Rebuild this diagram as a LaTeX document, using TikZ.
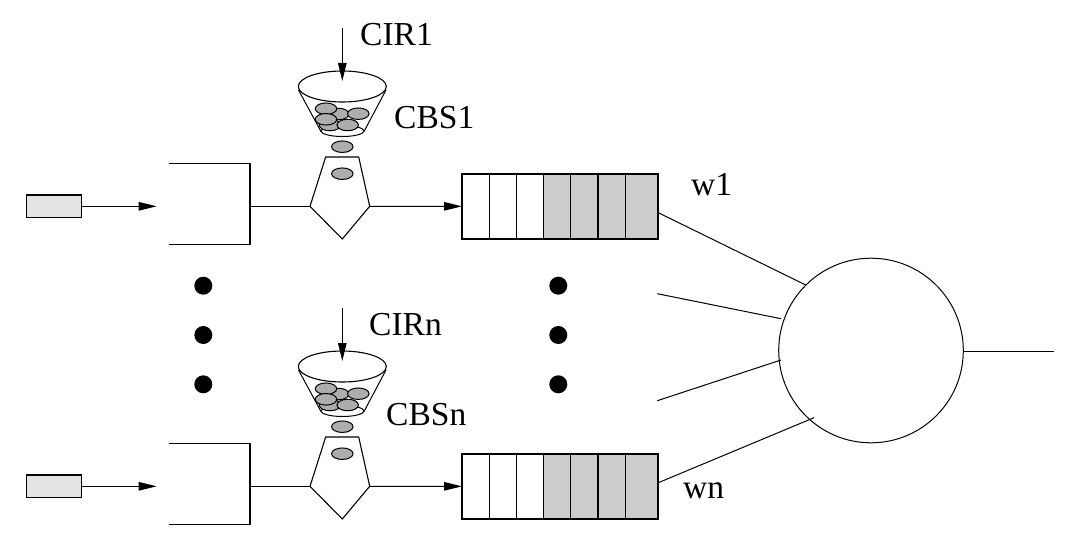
\documentclass[tikz,border=0pt]{standalone}
\usepackage{fontspec}
\setmainfont{Liberation Serif}
\usetikzlibrary{arrows.meta,shapes.geometric}
\tikzset{
  wire/.style={line width=1pt,line cap=butt},
  arrowwire/.style={wire,-{Triangle[length=18pt,width=8.5pt]}},
  lbl/.style={anchor=base west,inner sep=0pt,font=\fontsize{33.5}{36}\selectfont},
  pellet/.style={draw,fill=black!32,line width=1pt,ellipse,minimum width=21.5pt,minimum height=11.5pt,inner sep=0pt,outer sep=0pt},
  srcbox/.style={draw,fill=black!11,line width=1.4pt,minimum width=55pt,minimum height=22.4pt,inner sep=0pt,outer sep=0pt},
  queuebox/.style={draw,line width=2pt,minimum width=196pt,minimum height=64.7pt,inner sep=0pt,outer sep=0pt},
  bigdot/.style={circle,fill=black,minimum size=18pt,inner sep=0pt,outer sep=0pt},
  branch/.pic={
    \node[srcbox] (src) at (54.2,206.3) {};
    \coordinate (srcend) at (156.7,206.3);
    \draw[arrowwire] (src.east) -- (srcend);
    \coordinate (brtl) at (169,163.7);
    \coordinate (brtr) at (250,163.7);
    \coordinate (brbr) at (250,244.3);
    \coordinate (brbl) at (169,244.3);
    \coordinate (brmid) at (250,206.3);
    \draw[line width=1.2pt] (brtl) -- (brtr);
    \draw[line width=1.2pt] (brbl) -- (brbr);
    \draw[line width=1.8pt,line cap=rect] (brtr) -- (brbr);
    % shaper
    \coordinate (pl) at (310,206.3);
    \coordinate (pr) at (369.7,206.3);
    \draw[line width=1.1pt,line join=miter] (325.7,157) -- (358.7,157) -- (pr) -- (342.3,239) -- (pl) -- cycle;
    \draw[wire] (brmid) -- (pl);
    \node[pellet] (drop1) at (342.3,146.7) {};
    \node[pellet] (drop2) at (342.3,173.7) {};
    % bucket
    \draw[line width=1pt] (342.5,131) ellipse [x radius=21.5,y radius=5.5];
    \node[pellet] at (338.3,114) {};
    \node[pellet] at (358.3,113.7) {};
    \node[pellet] at (330,125) {};
    \node[pellet] at (326,108.7) {};
    \node[pellet] at (326,119.3) {};
    \node[pellet] at (347.7,125) {};
    \draw[line width=1pt] (298.5,90) -- (321,131.5);
    \draw[line width=1pt] (386,90) -- (364,131.5);
    \draw[line width=1.1pt] (342.3,86.5) ellipse [x radius=44,y radius=15.5];
    \coordinate (rateA) at (342.3,28);
    \coordinate (rateB) at (342.3,81);
    \draw[arrowwire] (rateA) -- (rateB);
    % queue
    \fill[black!20] (543.7,174) rectangle (658,238.7);
    \node[queuebox] (q) at (560,206.35) {};
    \foreach \x/\w in {489.3/1,516.7/1,543.7/1,570.7/1,598/1.3,625.3/1}
      \draw[line width=\w pt] (\x,174) -- (\x,238.7);
    \draw[arrowwire] (pr) -- (q.west);
  }
}
\begin{document}
\begin{tikzpicture}[x=1pt,y=-1pt]
\useasboundingbox (0,0) rectangle (1070,543);
\pic (up-) at (0,0) {branch};
\pic (lo-) at (0,280) {branch};
\node[draw,circle,line width=1pt,minimum size=184.6pt,inner sep=0pt,outer sep=0pt] (sched) at (871,350.5) {};
\coordinate (a1) at (658.3,212.7); \coordinate (a2) at (805.7,285);
\coordinate (b1) at (657.3,293.7); \coordinate (b2) at (781,318.7);
\coordinate (c1) at (657.3,400.7); \coordinate (c2) at (781,360);
\coordinate (d1) at (658.3,482.7); \coordinate (d2) at (814,417.7);
\coordinate (out) at (1054,351.3);
\draw[wire] (a1) -- (a2);
\draw[wire] (b1) -- (b2);
\draw[wire] (c1) -- (c2);
\draw[wire] (d1) -- (d2);
\draw[wire] (sched.east |- out) -- (out);
\foreach \n/\x/\y in {l1/203.3/285.7,l2/203.3/335,l3/203.3/384.3,r1/558.3/285.7,r2/558.3/335,r3/558.3/384.3}
  \node[bigdot] (dot\n) at (\x,\y) {};
\node[lbl] (cir1) at (360,45.5) {CIR1};
\node[lbl] (cbs1) at (394,128) {CBS1};
\node[lbl] (w1) at (691,195) {w1};
\node[lbl] (wn) at (683,498) {wn};
\node[lbl] (cirn) at (369,335) {CIRn};
\node[lbl] (cbsn) at (386,425) {CBSn};
\end{tikzpicture}
\end{document}
